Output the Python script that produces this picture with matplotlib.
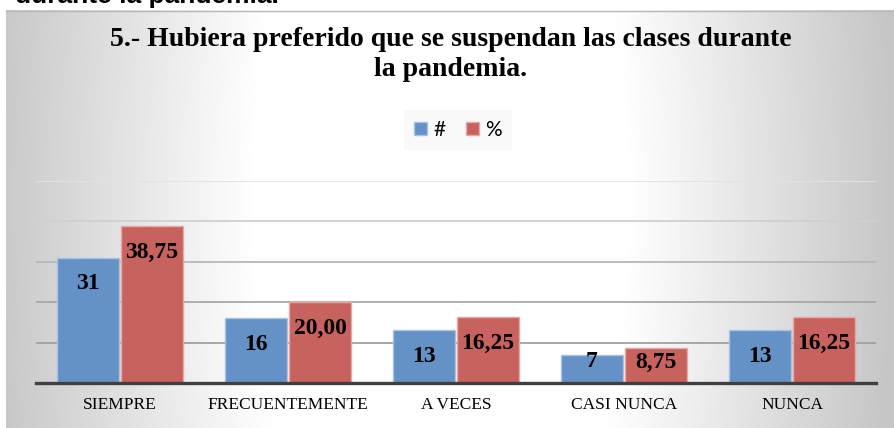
import numpy as np
import matplotlib.pyplot as plt
from matplotlib.patches import Patch

categorias = ['SIEMPRE', 'FRECUENTEMENTE', 'A VECES', 'CASI NUNCA', 'NUNCA']
cantidad = [31, 16, 13, 7, 13]
porcentaje = [38.75, 20.00, 16.25, 8.75, 16.25]
etiq_cantidad = ['31', '16', '13', '7', '13']
etiq_porcentaje = ['38,75', '20,00', '16,25', '8,75', '16,25']
titulo = '5.- Hubiera preferido que se suspendan las clases durante\nla pandemia.'

W, H = 894, 428
azul = '#6592c6'
rojo = '#c8625f'

fig = plt.figure(figsize=(W / 100, H / 100), dpi=100)

# fondo con degradado (gris en los bordes, blanco al centro)
bg = fig.add_axes([0, 0, 1, 1])
yy, xx = np.mgrid[0:H, 0:W]
t = np.sqrt(((xx - 440) / 450.0) ** 2 + ((yy - 200) / 1100.0) ** 2)
v = 1 - 0.22 * np.clip((t - 0.42) / 0.58, 0, 1)
v[(xx < 6) | (yy < 10)] = 1.0
bg.imshow(np.dstack([v, v, v]), extent=[0, W, H, 0], aspect='auto')
bg.plot([6, W], [10.5, 10.5], color='#b8b8b8', lw=1)
bg.set_xlim(0, W)
bg.set_ylim(H, 0)
bg.axis('off')

# texto cortado del documento
fig.text(15 / W, 1 - 3 / H, 'durante la pandemia.', fontsize=19, fontweight='bold',
         family='Liberation Sans', va='baseline', ha='left')

ax = fig.add_axes([36 / W, 45 / H, 840 / W, 202 / H])
ax.patch.set_alpha(0)
x = np.arange(len(categorias))
ancho = 0.37
b1 = ax.bar(x - ancho / 2 - 0.006, cantidad, ancho, color=azul, edgecolor='#a9c2e4', linewidth=1, zorder=3)
b2 = ax.bar(x + ancho / 2 + 0.006, porcentaje, ancho, color=rojo, edgecolor='#e8a8a6', linewidth=1, zorder=3)
ax.set_xlim(-0.5, len(categorias) - 0.5)
ax.set_ylim(0, 50)

grises = ['#a0a0a0', '#a8a8a8', '#b8b8b8', '#d0d0d0', '#e2e2e2']
for g, c in zip([10, 20, 30, 40, 50], grises):
    ax.axhline(g, color=c, lw=1.3, zorder=1)

for s in ['top', 'right', 'left']:
    ax.spines[s].set_visible(False)
ax.spines['bottom'].set_color('#404040')
ax.spines['bottom'].set_linewidth(2.4)
ax.spines['bottom'].set_zorder(4)
ax.set_yticks([])
ax.set_xticks(x)
ax.set_xticklabels(categorias, family='Liberation Serif', fontsize=12.5)
ax.tick_params(axis='x', length=0, pad=10)

for barras, etiq in [(b1, etiq_cantidad), (b2, etiq_porcentaje)]:
    for b, e in zip(barras, etiq):
        h = b.get_height()
        ax.text(b.get_x() + b.get_width() / 2, max(h - 6.4, 5.2), e, ha='center', va='center',
                family='Liberation Serif', fontweight='bold', fontsize=17, zorder=5)

fig.text(451 / W, 1 - 27 / H, titulo, ha='center', va='top', family='Liberation Serif',
         fontweight='bold', fontsize=20, linespacing=1.25)

leg = fig.legend(handles=[Patch(facecolor=azul, edgecolor='#a9c2e4', label='#'),
                          Patch(facecolor=rojo, edgecolor='#e8a8a6', label='%')],
                 loc='center', bbox_to_anchor=(458 / W, 1 - 130 / H), ncol=2, frameon=True,
                 prop={'family': 'Lato', 'size': 15}, handlelength=0.6, handleheight=0.6,
                 handletextpad=0.3, columnspacing=1.0, borderpad=0.5, fancybox=False)
leg.get_frame().set_facecolor('#f8f8f8')
leg.get_frame().set_edgecolor('none')

fig.savefig('out.png', dpi=100)
